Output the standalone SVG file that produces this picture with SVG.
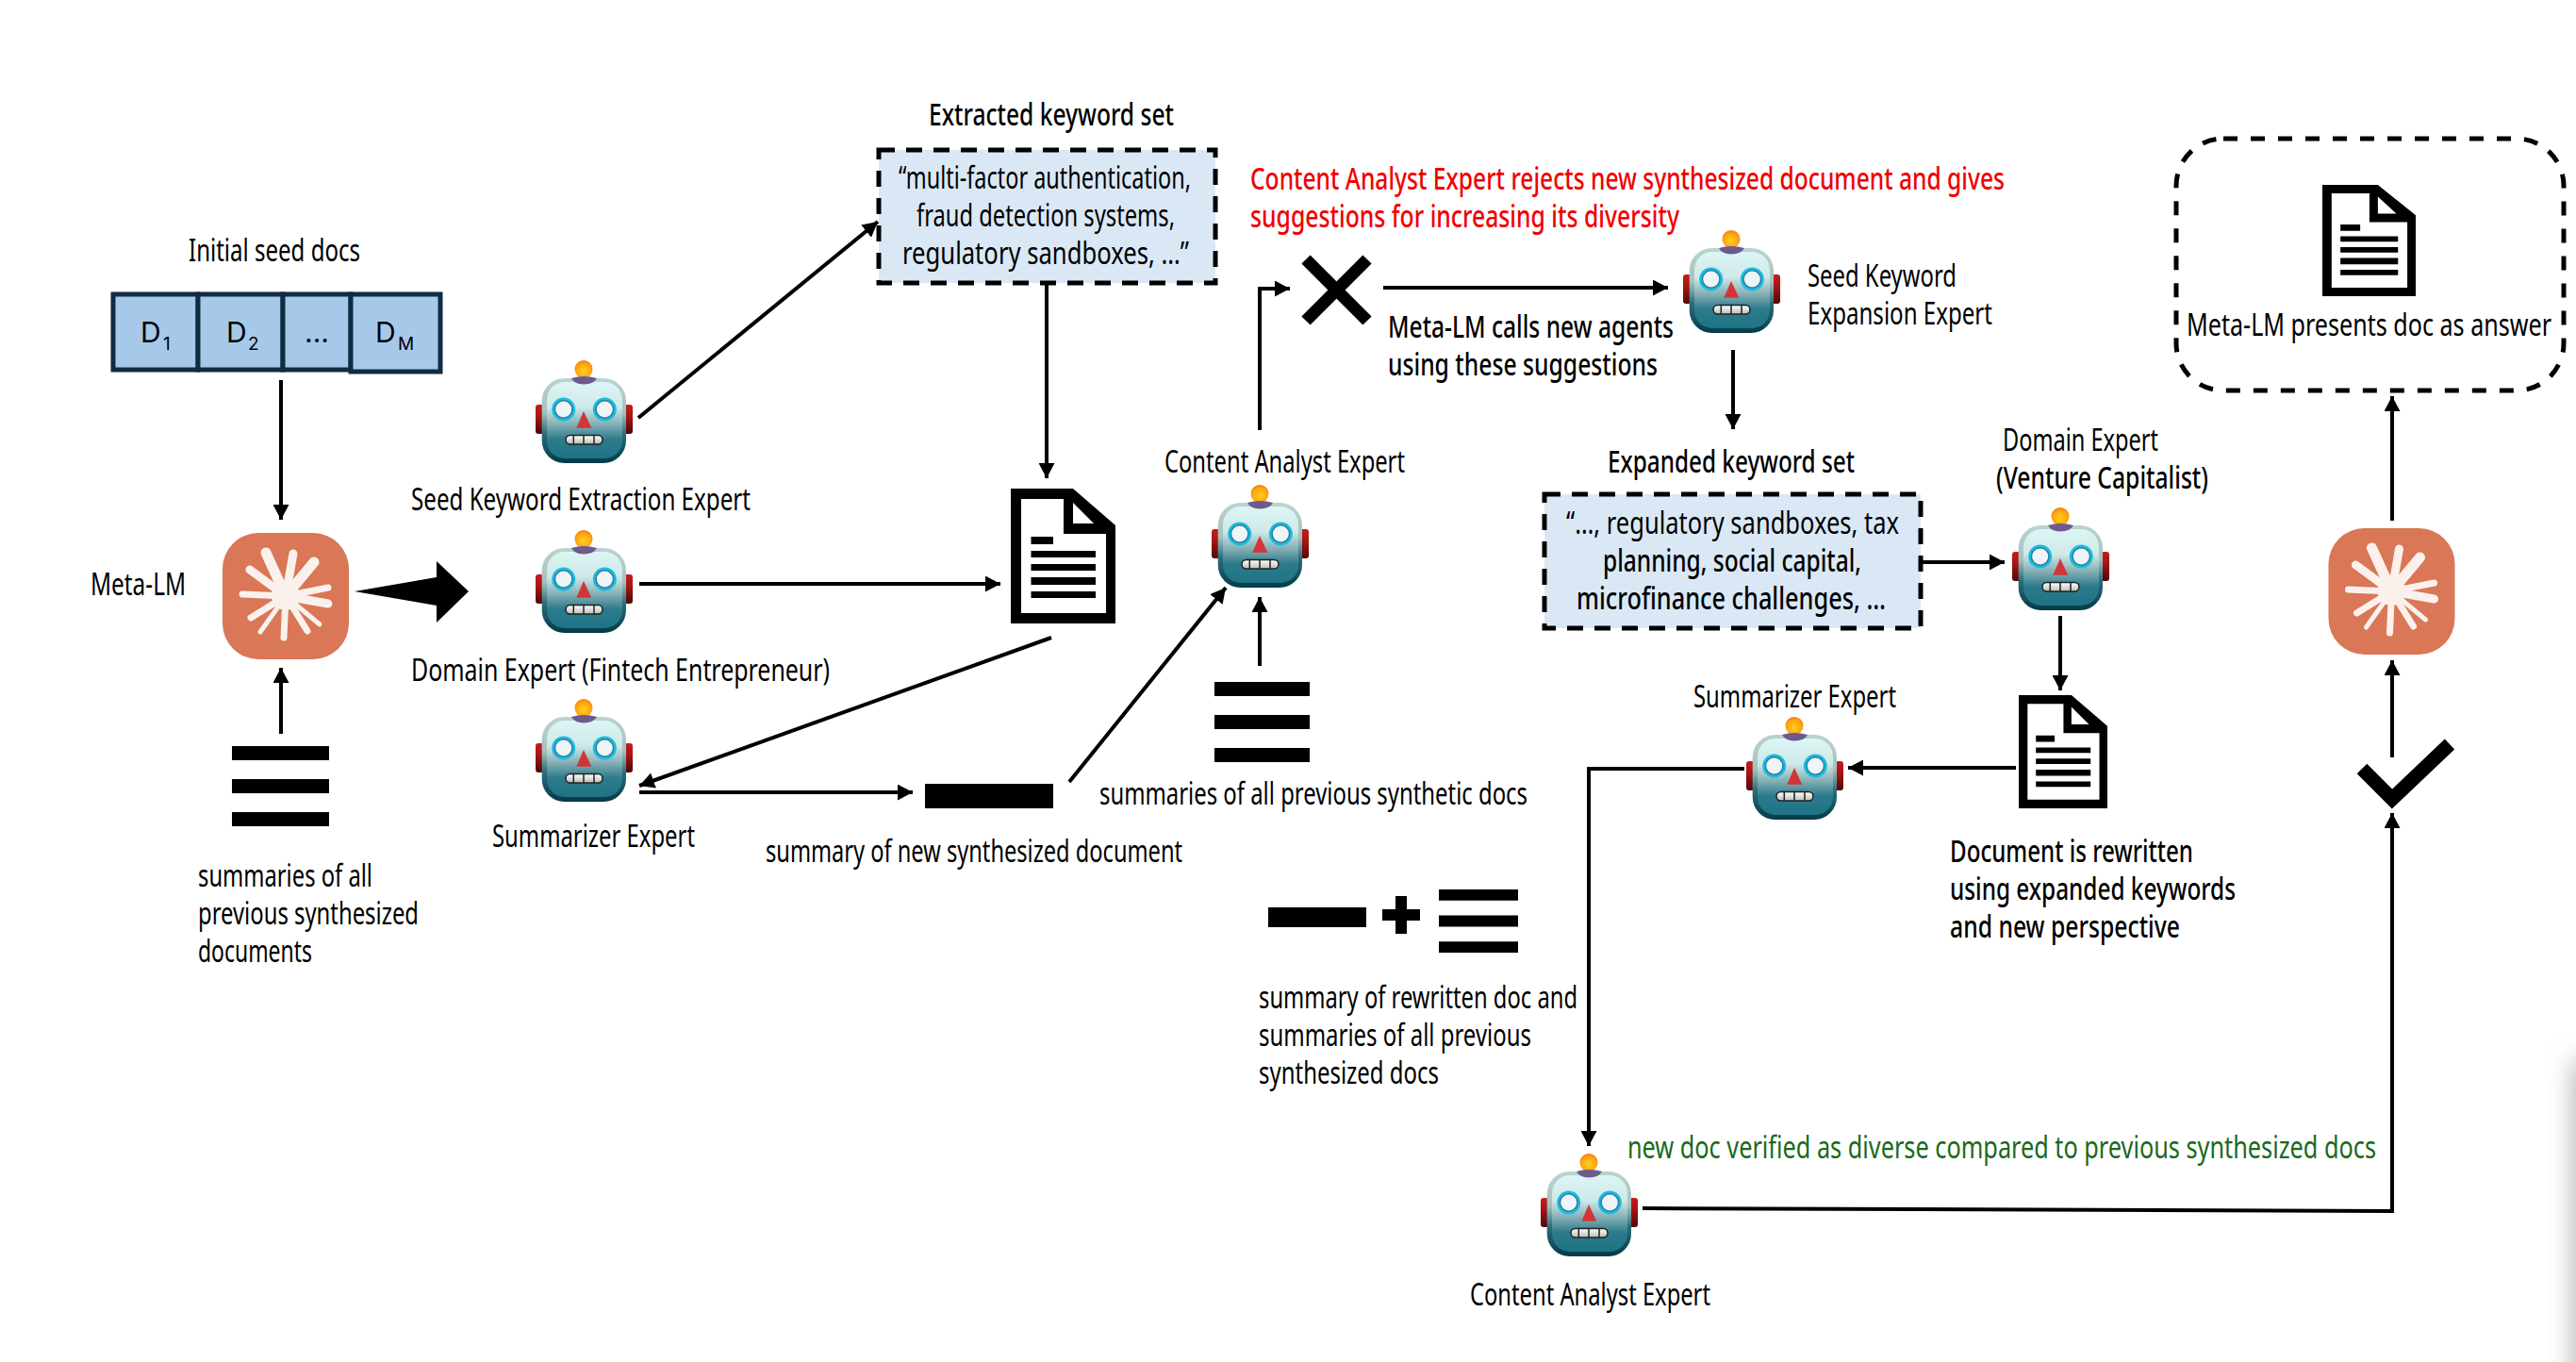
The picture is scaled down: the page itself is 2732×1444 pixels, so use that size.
<svg xmlns="http://www.w3.org/2000/svg" width="2732" height="1444" viewBox="0 0 2732 1444">
<style>
text{font-family:"Noto Sans","Liberation Sans",sans-serif;font-size:32px;fill:#000;transform:translateY(1px)}
.b{font-weight:500}
.red{fill:#f00000;font-weight:500}
.green{fill:#1b6a1b}
.c{fill:none;stroke:#000;stroke-width:4}
.a{marker-end:url(#ah)}
.box{fill:#dae8f6;stroke:#000;stroke-width:5;stroke-dasharray:17 12}
.cell{fill:#a6c9ea;stroke:#0f2c40;stroke-width:5}
.d{font-family:"Inter","Noto Sans",sans-serif;font-size:30px;transform:none}
.s{font-family:"Inter","Noto Sans",sans-serif;font-size:19px;transform:none}
</style>
<defs>
<marker id="ah" markerUnits="userSpaceOnUse" markerWidth="17" markerHeight="17" refX="16" refY="8.5" orient="auto"><path d="M0 0L16 8.5L0 17Z"/></marker>
<linearGradient id="gh" x1="0" y1="0" x2="0" y2="1"><stop offset="0" stop-color="#bcd3ce"/><stop offset=".4" stop-color="#a5c2c0"/><stop offset=".65" stop-color="#2c6d7a"/><stop offset="1" stop-color="#033a48"/></linearGradient>
<linearGradient id="gf" x1="0" y1="0" x2="0" y2="1"><stop offset="0" stop-color="#dcf5f5"/><stop offset=".33" stop-color="#cfe9e9"/><stop offset=".55" stop-color="#86b0b5"/><stop offset=".75" stop-color="#2c7b8c"/><stop offset="1" stop-color="#1e7385"/></linearGradient>
<linearGradient id="ge" x1="0" y1="0" x2="0" y2="1"><stop offset="0" stop-color="#c51d1d"/><stop offset=".4" stop-color="#a81414"/><stop offset="1" stop-color="#4e0808"/></linearGradient>
<radialGradient id="ga" cx=".5" cy=".6" r=".6"><stop offset="0" stop-color="#ffd21f"/><stop offset=".7" stop-color="#ffa30f"/><stop offset="1" stop-color="#f47a10"/></radialGradient>
<linearGradient id="gt" x1="0" y1="0" x2="0" y2="1"><stop offset="0" stop-color="#fff"/><stop offset="1" stop-color="#bdbdb3"/></linearGradient>
<filter id="blur" x="-300%" y="-30%" width="700%" height="160%"><feGaussianBlur stdDeviation="14"/></filter>
<symbol id="robot" viewBox="0 0 103 109" overflow="visible">
<rect x="0" y="47" width="9" height="31" rx="3" fill="url(#ge)"/>
<rect x="94" y="47" width="9" height="31" rx="3" fill="url(#ge)"/>
<rect x="6.7" y="19" width="89.3" height="90" rx="24" fill="url(#gh)"/>
<rect x="12" y="23" width="80" height="81" rx="19" fill="url(#gf)"/>
<circle cx="51" cy="9.5" r="9.5" fill="url(#ga)"/>
<path d="M38 19Q51 15 65 19Q62 25 51 25.500Q41 25 38 19Z" fill="#6d5a8e"/>
<circle cx="29.700" cy="52" r="12.500" fill="#17bde0"/><circle cx="29.700" cy="52" r="10" fill="#2f7a9c"/><circle cx="29.700" cy="52" r="8.500" fill="#eef5f8"/>
<circle cx="73.300" cy="52" r="12.500" fill="#17bde0"/><circle cx="73.300" cy="52" r="10" fill="#2f7a9c"/><circle cx="73.300" cy="52" r="8.500" fill="#eef5f8"/>
<path d="M51 54L59.300 71.700H43.300Z" fill="#d23538"/>
<rect x="32" y="79.500" width="39" height="9.500" rx="4.700" fill="url(#gt)" stroke="#1c2326" stroke-width="1.500"/>
<path d="M40.300 79.500V89M51 79.500V89M62 79.500V89" stroke="#1c2326" stroke-width="1.500"/>
</symbol>
<symbol id="doc" viewBox="0 0 111 143" preserveAspectRatio="none">
<path d="M0 0H66L111 39V143H0Z"/>
<path d="M11 11H56V48H101V132H11Z" fill="#fff"/>
<path d="M66 15L88 37H66Z" fill="#fff"/>
<path d="M21.500 51H45V59H21.500ZM21.500 66H90V73H21.500ZM21.500 80H90V87H21.500ZM21.500 94H90V102H21.500ZM21.500 109H90V116H21.500Z"/>
</symbol>
<symbol id="meta" viewBox="-67 -67 134 134" overflow="visible">
<rect x="-67" y="-67" width="134" height="134" rx="38" fill="#d97757"/>
<g stroke="#fbf1ec" stroke-linecap="round" fill="none">
<path stroke-width="11" d="M0 0L-21-46M0 0L30-36"/>
<path stroke-width="9" d="M0 0L8-45M0 0L-38-28M0 0L45 8"/>
<path stroke-width="7" d="M0 0L45-9M0 0L-46-2M0 0L-37 23M0 0L-2 44M0 0L23 37"/>
<path stroke-width="5" d="M0 0L36 30M0 0L-27 38"/>
</g>
<circle r="15" fill="#fbf1ec"/>
</symbol>
<symbol id="stack" viewBox="0 0 100 85" preserveAspectRatio="none"><path d="M0 0H100V15H0ZM0 35H100V50H0ZM0 70H100V85H0Z"/></symbol>
</defs>
<rect width="2732" height="1444" fill="#fff"/>
<rect x="2730" y="1125" width="34" height="400" fill="#b0b0b0" filter="url(#blur)"/>
<g id="connectors">
<line class="c a" x1="298" y1="403" x2="298" y2="551"/>
<line class="c a" x1="298" y1="778" x2="298" y2="708"/>
<path d="M376 627L463 612V595L497 627L463 660V642Z"/>
<line class="c a" x1="677" y1="443" x2="931" y2="235"/>
<line class="c a" x1="1110" y1="300" x2="1110" y2="507"/>
<line class="c a" x1="678" y1="619" x2="1061" y2="619"/>
<line class="c a" x1="1115" y1="676" x2="678" y2="833"/>
<line class="c a" x1="678" y1="840" x2="968" y2="840"/>
<line class="c a" x1="1134" y1="829" x2="1300" y2="623"/>
<line class="c a" x1="1336" y1="706" x2="1336" y2="633"/>
<path class="c a" d="M1336 456V306H1368"/>
<line class="c a" x1="1467" y1="305" x2="1769" y2="305"/>
<line class="c a" x1="1838" y1="371" x2="1838" y2="455"/>
<line class="c a" x1="2037" y1="596" x2="2126" y2="596"/>
<line class="c a" x1="2185" y1="653" x2="2185" y2="732"/>
<line class="c a" x1="2138" y1="814" x2="1960" y2="814"/>
<path class="c a" d="M1850 815H1685V1215"/>
<path class="c a" d="M1742 1281L2537 1284V862"/>
<line class="c a" x1="2537" y1="803" x2="2537" y2="700"/>
<line class="c a" x1="2537" y1="552" x2="2537" y2="420"/>
</g>
<g id="seed-docs">
<rect class="cell" x="120" y="312" width="90" height="80"/>
<rect class="cell" x="210" y="312" width="90" height="80"/>
<rect class="cell" x="300" y="312" width="72" height="80"/>
<rect class="cell" x="372" y="312" width="95" height="82"/>
<text class="d" x="149" y="363">D</text><text class="s" x="173" y="371">1</text>
<text class="d" x="240" y="363">D</text><text class="s" x="263" y="371">2</text>
<text class="d" x="323" y="363">...</text>
<text class="d" x="398" y="363">D</text><text class="s" x="422" y="371">M</text>
<text x="200" y="276" textLength="182" lengthAdjust="spacingAndGlyphs">Initial seed docs</text>
</g>
<g id="meta-lm-1"><use href="#meta" x="236" y="565" width="134" height="134"/>
<text x="96" y="630" textLength="101" lengthAdjust="spacingAndGlyphs">Meta-LM</text></g>
<g id="summaries-left"><use href="#stack" x="246" y="791" width="103" height="85"/>
<text x="210" y="939" textLength="185" lengthAdjust="spacingAndGlyphs">summaries of all</text>
<text x="210" y="979" textLength="234" lengthAdjust="spacingAndGlyphs">previous synthesized</text>
<text x="210" y="1019" textLength="121" lengthAdjust="spacingAndGlyphs">documents</text></g>
<g id="seed-keyword-extraction"><use href="#robot" x="568" y="382" width="103" height="109"/>
<text x="436" y="540" textLength="360" lengthAdjust="spacingAndGlyphs">Seed Keyword Extraction Expert</text></g>
<g id="domain-fintech"><use href="#robot" x="568" y="562" width="103" height="109"/>
<text x="436" y="721" textLength="444" lengthAdjust="spacingAndGlyphs">Domain Expert (Fintech Entrepreneur)</text></g>
<g id="summarizer-1"><use href="#robot" x="568" y="741" width="103" height="109"/>
<text x="522" y="897" textLength="215" lengthAdjust="spacingAndGlyphs">Summarizer Expert</text></g>
<g id="extracted-set">
<rect class="box" x="932" y="159" width="357" height="141"/>
<text class="b" x="985" y="132" textLength="260" lengthAdjust="spacingAndGlyphs">Extracted keyword set</text>
<text x="953" y="199" textLength="310" lengthAdjust="spacingAndGlyphs">“multi-factor authentication,</text>
<text x="972" y="239" textLength="274" lengthAdjust="spacingAndGlyphs">fraud detection systems,</text>
<text x="957" y="279" textLength="304" lengthAdjust="spacingAndGlyphs">regulatory sandboxes, …”</text></g>
<g id="doc-1"><use href="#doc" x="1072" y="518" width="111" height="143"/></g>
<g id="summary-new"><rect x="981" y="831" width="136" height="26"/>
<text x="812" y="913" textLength="442" lengthAdjust="spacingAndGlyphs">summary of new synthesized document</text></g>
<g id="summaries-synth"><use href="#stack" x="1288" y="723" width="101" height="85"/>
<text x="1166" y="852" textLength="454" lengthAdjust="spacingAndGlyphs">summaries of all previous synthetic docs</text></g>
<g id="content-analyst-1"><use href="#robot" x="1285" y="514" width="103" height="109"/>
<text x="1235" y="500" textLength="255" lengthAdjust="spacingAndGlyphs">Content Analyst Expert</text></g>
<g id="reject"><path d="M1385 275L1450 340M1450 275L1385 340" stroke="#000" stroke-width="13" fill="none"/>
<text class="red" x="1326" y="200" textLength="800" lengthAdjust="spacingAndGlyphs">Content Analyst Expert rejects new synthesized document and gives</text>
<text class="red" x="1326" y="240" textLength="455" lengthAdjust="spacingAndGlyphs">suggestions for increasing its diversity</text>
<text class="b" x="1472" y="357" textLength="303" lengthAdjust="spacingAndGlyphs">Meta-LM calls new agents</text>
<text class="b" x="1472" y="397" textLength="286" lengthAdjust="spacingAndGlyphs">using these suggestions</text></g>
<g id="seed-expansion"><use href="#robot" x="1785" y="244" width="103" height="109"/>
<text x="1917" y="303" textLength="158" lengthAdjust="spacingAndGlyphs">Seed Keyword</text>
<text x="1917" y="343" textLength="196" lengthAdjust="spacingAndGlyphs">Expansion Expert</text></g>
<g id="expanded-set">
<rect class="box" x="1638" y="524" width="399" height="142"/>
<text class="b" x="1705" y="500" textLength="262" lengthAdjust="spacingAndGlyphs">Expanded keyword set</text>
<text x="1661" y="565" textLength="353" lengthAdjust="spacingAndGlyphs">“…, regulatory sandboxes, tax</text>
<text class="b" x="1700" y="605" textLength="274" lengthAdjust="spacingAndGlyphs">planning, social capital,</text>
<text class="b" x="1672" y="645" textLength="328" lengthAdjust="spacingAndGlyphs">microfinance challenges, …</text></g>
<g id="domain-vc"><use href="#robot" x="2134" y="538" width="103" height="109"/>
<text x="2124" y="477" textLength="165" lengthAdjust="spacingAndGlyphs">Domain Expert</text>
<text class="b" x="2117" y="517" textLength="225" lengthAdjust="spacingAndGlyphs">(Venture Capitalist)</text></g>
<g id="doc-2"><use href="#doc" x="2141" y="737" width="94" height="120"/>
<text class="b" x="2068" y="913" textLength="258" lengthAdjust="spacingAndGlyphs">Document is rewritten</text>
<text class="b" x="2068" y="953" textLength="303" lengthAdjust="spacingAndGlyphs">using expanded keywords</text>
<text class="b" x="2068" y="993" textLength="244" lengthAdjust="spacingAndGlyphs">and new perspective</text></g>
<g id="summarizer-2"><use href="#robot" x="1852" y="760" width="103" height="109"/>
<text x="1796" y="749" textLength="215" lengthAdjust="spacingAndGlyphs">Summarizer Expert</text></g>
<g id="summary-combo"><rect x="1345" y="962" width="104" height="21"/>
<path d="M1466 964H1480V950H1492V964H1506V976H1492V990H1480V976H1466Z"/>
<use href="#stack" x="1526" y="943" width="84" height="67"/>
<text x="1335" y="1068" textLength="338" lengthAdjust="spacingAndGlyphs">summary of rewritten doc and</text>
<text x="1335" y="1108" textLength="289" lengthAdjust="spacingAndGlyphs">summaries of all previous</text>
<text x="1335" y="1148" textLength="191" lengthAdjust="spacingAndGlyphs">synthesized docs</text></g>
<g id="content-analyst-2"><use href="#robot" x="1634" y="1223" width="103" height="109"/>
<text x="1559" y="1383" textLength="255" lengthAdjust="spacingAndGlyphs">Content Analyst Expert</text>
<text class="green" x="1726" y="1227" textLength="794" lengthAdjust="spacingAndGlyphs">new doc verified as diverse compared to previous synthesized docs</text></g>
<g id="verified"><path d="M2505 815L2537 847L2598 789" stroke="#000" stroke-width="15" fill="none"/></g>
<g id="meta-lm-2"><use href="#meta" x="2469" y="560" width="135" height="134"/></g>
<g id="answer"><rect x="2308" y="147" width="411" height="267" rx="50" fill="none" stroke="#000" stroke-width="5" stroke-dasharray="15 14"/>
<use href="#doc" x="2463" y="196" width="99" height="118"/>
<text x="2319" y="355" textLength="387" lengthAdjust="spacingAndGlyphs">Meta-LM presents doc as answer</text></g>
</svg>
